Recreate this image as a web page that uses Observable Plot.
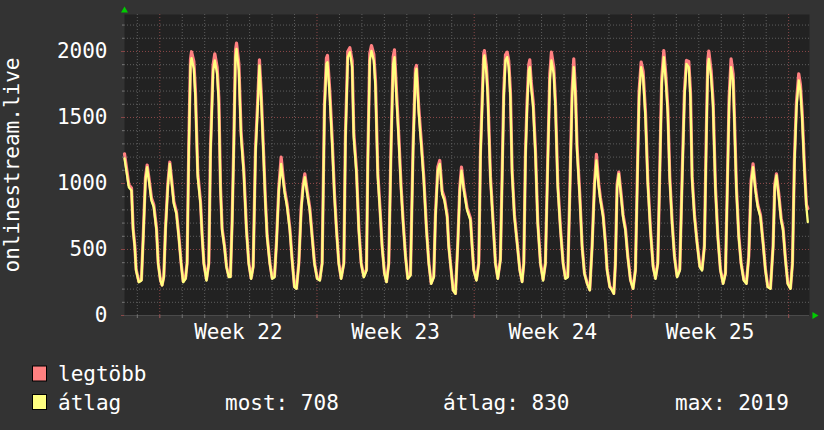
<!DOCTYPE html>
<html><head><meta charset="utf-8">
<script src="https://cdn.jsdelivr.net/npm/d3@7"></script>
<script src="https://cdn.jsdelivr.net/npm/@observablehq/plot@0.6"></script>
<style>
html,body{margin:0;padding:0;background:#333333;}
#wrap{width:824px;height:430px;overflow:hidden;background:#333333;}
svg{display:block;}
</style></head><body><div id="wrap"></div>
<script>
// hours since Monday 2023-05-29 00:00 (start of Week 22)
const hours = [
-37.7,-34.9,-33.1,-30.2,-28.5,-26.7,-25.3,-22.4,-19.6,-17.8,-15.3,-13.5,-10.7,-8.9,-6.4,-3.5,-1.7,
0.7,2.5,4.3,6.1,8.6,10.7,13.2,15.0,17.8,20.3,22.8,
25.0,27.5,29.2,31.0,32.8,33.9,36.4,38.1,40.6,43.5,45.3,47.1,
49.9,52.4,54.2,57.0,58.8,61.3,63.1,64.9,66.6,69.1,71.3,
73.8,75.5,77.3,79.1,80.9,82.0,84.5,86.9,89.8,92.6,95.1,
97.6,99.8,102.3,104.8,106.5,108.3,110.5,112.9,114.7,117.6,
120.1,122.6,124.7,127.2,129.7,131.8,133.6,136.1,139.0,141.4,
143.9,146.1,148.6,151.1,153.2,155.0,157.5,160.3,162.8,165.3,
168.2,171.0,173.5,176.0,178.1,179.2,181.7,184.2,186.7,188.8,191.3,
193.8,196.7,198.4,200.9,203.1,205.6,207.3,210.2,212.7,215.2,
218.0,220.9,222.3,224.4,226.2,228.7,230.5,233.0,235.1,237.6,240.1,
242.3,244.7,247.2,249.4,250.8,252.9,255.4,257.9,260.1,262.6,
265.0,267.9,270.7,273.2,274.3,276.8,279.3,282.1,285.0,287.5,
290.0,292.8,294.6,297.1,299.2,301.7,304.2,307.1,308.8,311.3,
313.5,316.0,318.5,320.6,322.4,324.9,328.4,332.0,333.8,335.5,
338.4,340.9,342.7,344.8,346.2,346.9,349.1,350.5,353.4,356.2,358.7,
361.2,364.0,365.8,367.6,369.4,371.2,372.9,374.7,376.5,379.0,381.9,384.7,
387.2,389.0,390.8,392.5,394.3,395.4,396.8,399.0,401.4,403.9,406.8,
409.6,412.1,414.6,416.8,418.5,421.0,422.8,425.3,428.2,431.0,
433.5,436.0,438.1,440.6,442.4,444.2,445.9,448.8,451.3,453.8,
456.7,459.5,462.0,464.5,466.6,469.1,470.9,473.8,476.2,478.0,
480.9,483.4,485.2,486.9,488.7,490.5,493.0,495.1,497.6,500.1,
503.0,505.8,508.3,510.1,512.2,514.4,516.5,519.0,521.5,524.3,527.2,
529.7,532.2,534.3,536.4,538.6,540.7,542.9,545.0,547.5,550.0,
552.8,555.7,558.2,560.7,562.8,565.3,567.1,568.9,571.4,574.2,
577.1,579.5,582.0,584.2,585.6,586.7,589.2,591.3,593.8,596.3,599.1,
602.0,604.5,606.3,608.4,610.5,612.7,614.1,616.2,618.7,621.2,
624.1,626.9,629.4,631.9,634.0,636.5,639.0,641.9,644.7,647.2,
649.7,652.6,655.4,657.2,659.0,661.5,664.0,666.1,668.6,671.1,
674.0,676.1,678.2,680.4,682.8,684.6,686.4,688.9,691.0,692.5
];
// átlag (average)
const atlag = [
1190,1060,972,947,644,517,341,252,265,568,1023,1124,972,871,821,644,391,
265,227,290,644,972,1149,972,846,770,593,391,
252,278,391,1250,1890,1950,1870,1654,1048,846,594,391,
265,391,1225,1856,1932,1831,1604,947,644,518,366,
290,290,694,1275,1957,2019,1856,1351,1073,644,391,
278,366,1225,1604,1894,1654,1275,846,594,391,
278,290,543,947,1149,1023,922,821,644,417,
215,202,391,796,972,1048,922,796,594,391,
278,265,391,1553,1906,1919,1654,1300,896,644,391,
278,391,1326,1957,1995,1881,1351,1073,644,391,
290,341,1149,1932,2005,1932,1730,1048,821,518,316,
253,391,1275,1906,1957,1654,1326,947,695,442,
278,303,1250,1831,1869,1528,1300,1023,644,391,
240,290,745,1098,1149,922,871,745,518,341,
190,164,543,947,1098,947,796,720,518,341,
265,391,1200,1654,1945,1970,1831,1654,1023,695,391,
278,417,1023,1654,1932,1957,1881,1654,1073,745,543,341,
253,391,1200,1578,1856,1881,1730,1578,1225,695,391,
265,391,1149,1780,1932,1831,1578,972,644,391,
278,290,896,1654,1881,1654,1250,896,518,316,
240,190,518,972,1174,972,871,745,543,341,
215,190,164,391,972,1073,896,745,644,442,
265,202,341,947,1654,1881,1806,1503,998,644,366,
278,391,1073,1755,1957,1780,1528,1023,695,442,
290,341,1023,1654,1906,1881,1654,1023,745,543,
366,341,518,1402,1881,1944,1806,1578,947,594,341,
240,316,896,1603,1881,1780,1452,947,594,391,
265,240,442,998,1124,947,821,745,543,341,
215,202,518,972,1061,896,720,644,417,240,
202,391,1149,1578,1780,1705,1503,1098,821,708
];
// legtöbb (maximum)
const legtobb = [
1225,1085,990,965,660,530,350,258,272,580,1045,1140,995,890,838,660,400,
270,232,297,660,995,1162,995,865,785,608,400,
258,284,400,1290,1940,1998,1925,1700,1080,865,608,400,
272,400,1265,1900,1982,1880,1650,975,660,530,375,
297,297,715,1310,2010,2063,1910,1390,1100,660,400,
284,375,1265,1650,1937,1700,1310,870,608,400,
284,297,555,970,1199,1050,945,840,660,428,
220,207,400,815,995,1073,945,815,608,400,
284,272,400,1600,1950,1970,1700,1340,920,660,400,
284,400,1365,2000,2028,1930,1390,1100,660,400,
297,350,1185,1985,2045,1980,1780,1080,840,530,323,
258,400,1310,1960,2012,1705,1365,975,712,452,
284,310,1290,1870,1894,1570,1335,1050,660,400,
245,297,765,1125,1174,945,890,762,530,350,
195,168,555,970,1124,972,815,737,530,350,
272,400,1240,1700,1985,2007,1880,1700,1050,712,400,
284,428,1055,1700,1975,1995,1930,1700,1100,762,555,350,
258,400,1240,1620,1900,1937,1780,1620,1260,712,400,
272,400,1185,1830,1995,1880,1620,1000,660,400,
284,297,925,1700,1944,1700,1285,920,530,323,
245,195,530,995,1220,995,890,762,555,350,
220,195,168,400,995,1086,920,762,660,452,
272,207,350,975,1700,1919,1850,1545,1025,660,375,
284,400,1105,1800,2007,1830,1570,1050,712,452,
297,350,1055,1700,1932,1925,1700,1050,762,555,
375,350,530,1445,1930,2002,1855,1620,975,608,350,
245,323,920,1650,1944,1830,1495,975,608,400,
272,245,452,1025,1149,970,840,762,555,350,
220,207,530,995,1073,920,737,660,428,245,
207,400,1185,1620,1831,1750,1545,1125,840,810
];
if (hours.length !== atlag.length || hours.length !== legtobb.length) console.error("length mismatch", hours.length, atlag.length, legtobb.length);

const xDomain = [-37.7, 694.3];
const yDomain = [0, 2280];
const weekStarts = [0, 168, 336, 504, 672];
const weekLabelPos = [84, 252, 420, 588];
const weekLabels = ["Week 22", "Week 23", "Week 24", "Week 25"];
const yTicks = [0, 500, 1000, 1500, 2000];
const dayLines = d3.range(-24, 694, 24);
const yMinor = d3.range(100, 2300, 100);
const yTitle = "onlinestream.live";
const legendNames = ["legtöbb", "átlag"];
const legendColors = ["#ff8080", "#ffff80"];
const statTexts = ["most: 708", "átlag: 830", "max: 2019"];

const rows = hours.map((h, i) => ({h, avg: atlag[i], max: legtobb[i]}));
const FONT = "DejaVu Sans Mono";
const minorC = "#5e5e5e", majorC = "#8a4848";

const chart = Plot.plot({
  width: 824, height: 350,
  marginLeft: 124, marginRight: 15, marginTop: 14, marginBottom: 35,
  x: {domain: xDomain, axis: null},
  y: {domain: yDomain, axis: null},
  style: {background: "#333333", color: "#ffffff", fontFamily: FONT, fontSize: "21px", overflow: "visible"},
  marks: [
    Plot.frame({fill: "#222222", stroke: "none"}),
    Plot.ruleY(yMinor.filter(v => v % 500 !== 0), {stroke: minorC, strokeDasharray: "1,2"}),
    Plot.ruleX(dayLines.filter(d => d % 168 !== 0), {stroke: minorC, strokeDasharray: "1,2"}),
    Plot.ruleY(yTicks.slice(1), {stroke: majorC, strokeDasharray: "1,2"}),
    Plot.ruleX(weekStarts, {stroke: majorC, strokeDasharray: "1,2"}),
    Plot.line(rows, {x: "h", y: "max", stroke: "#ff8080", strokeWidth: 3.2}),
    Plot.line(rows, {x: "h", y: "avg", stroke: "#ffff80", strokeWidth: 2.3}),
    Plot.ruleY([0], {stroke: "#4a4a4a"}),
    Plot.axisY(yMinor.filter(v => v % 500 !== 0), {tickSize: 2, tickFormat: () => "", stroke: "#777"}),
    Plot.axisY(yTicks, {tickSize: 3, tickPadding: 14, fontSize: 21, fontFamily: FONT, stroke: majorC, fill: "#ffffff", tickFormat: d => String(d)}),
    Plot.axisX(dayLines, {tickSize: 3, tickFormat: () => "", stroke: "#777"}),
    Plot.axisX(weekStarts, {tickSize: 3, tickFormat: () => "", stroke: majorC}),
    Plot.axisX(weekLabelPos, {tickSize: 0, tickPadding: 9, fontSize: 21, fontFamily: FONT, fill: "#ffffff",
      tickFormat: d => weekLabels[weekLabelPos.indexOf(d)]}),
    Plot.text([yTitle], {frameAnchor: "left", dx: -112, rotate: -90, textAnchor: "middle", lineAnchor: "middle",
      fontSize: 21, fontFamily: FONT, fill: "#ffffff", text: d => d}),
    Plot.dot([{x: xDomain[0], y: 2310}], {x: "x", y: "y", symbol: "triangle", r: 2.6, fill: "#00cc00", stroke: "none"}),
    Plot.dot([{x: xDomain[1] + 5.3, y: 0}], {x: "x", y: "y", symbol: "triangle", r: 2.6, fill: "#00cc00", stroke: "none", rotate: 90})
  ]
});
document.getElementById("wrap").appendChild(chart);

// legend below the chart
const leg = d3.select("#wrap").append("svg").attr("width", 824).attr("height", 80)
  .style("background", "#333333").style("font-family", FONT).style("font-size", "21px");
legendNames.forEach((name, i) => {
  const yTop = 16 + i * 28.5;
  leg.append("rect").attr("x", 32.5).attr("y", yTop).attr("width", 14).attr("height", 15)
    .attr("fill", legendColors[i]).attr("stroke", "#000").attr("stroke-width", 1);
  leg.append("text").attr("x", 58).attr("y", 31 + i * 29).attr("fill", "#ffffff").text(name);
});
const statX = [225, 443, 675];
statTexts.forEach((t, i) => {
  leg.append("text").attr("x", statX[i]).attr("y", 60).attr("fill", "#ffffff").attr("xml:space", "preserve").text(t);
});
</script>
</body></html>
